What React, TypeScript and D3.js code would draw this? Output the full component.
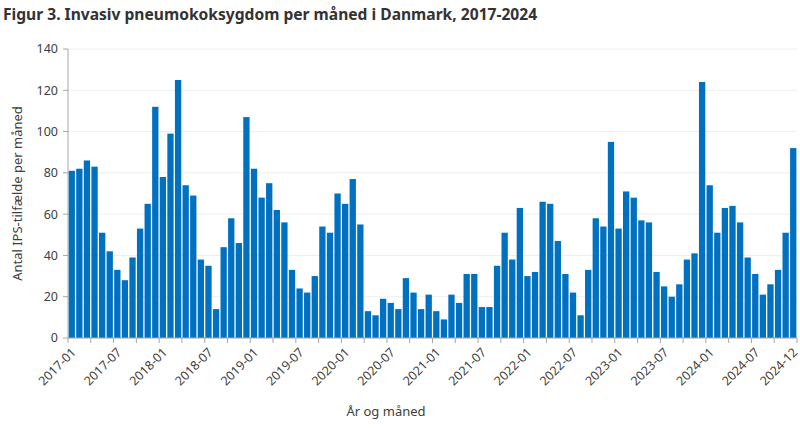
import React, { useMemo } from "react";
import * as d3 from "d3";

// Månedlige IPS-tilfælde, 2017-01 .. 2024-12
const years = [2017, 2018, 2019, 2020, 2021, 2022, 2023, 2024];
const months = ["01", "02", "03", "04", "05", "06", "07", "08", "09", "10", "11", "12"];
const categories = years.flatMap((y) => months.map((m) => `${y}-${m}`));

const cases2017 = [81, 82, 86, 83, 51, 42, 33, 28, 39, 53, 65, 112];
const cases2018 = [78, 99, 125, 74, 69, 38, 35, 14, 44, 58, 46, 107];
const cases2019 = [82, 68, 75, 62, 56, 33, 24, 22, 30, 54, 51, 70];
const cases2020 = [65, 77, 55, 13, 11, 19, 17, 14, 29, 22, 14, 21];
const cases2021 = [13, 9, 21, 17, 31, 31, 15, 15, 35, 51, 38, 63];
const cases2022 = [30, 32, 66, 65, 47, 31, 22, 11, 33, 58, 54, 95];
const cases2023 = [53, 71, 68, 57, 56, 32, 25, 20, 26, 38, 41, 124];
const cases2024 = [74, 51, 63, 64, 56, 39, 31, 21, 26, 33, 51, 92];
const values = [
    ...cases2017, ...cases2018, ...cases2019, ...cases2020,
    ...cases2021, ...cases2022, ...cases2023, ...cases2024,
];

const yTicks = [0, 20, 40, 60, 80, 100, 120, 140];
const xLabels = [
    "2017-01", "2017-07", "2018-01", "2018-07", "2019-01", "2019-07",
    "2020-01", "2020-07", "2021-01", "2021-07", "2022-01", "2022-07",
    "2023-01", "2023-07", "2024-01", "2024-07", "2024-12",
];

const title = "Figur 3. Invasiv pneumokoksygdom per måned i Danmark, 2017-2024";
const yTitle = "Antal IPS-tilfælde per måned";
const xTitle = "År og måned";

const width = 800;
const height = 428;
const margin = { top: 49, right: 3, bottom: 90, left: 68 };
const font = "'Noto Sans', 'DejaVu Sans', sans-serif";
const barColor = "#0070C0";
const axisColor = "#a6a6a6";
const textColor = "#404040";

export default function App() {
    const x = useMemo(
        () =>
            d3
                .scaleBand()
                .domain(categories)
                .range([margin.left, width - margin.right])
                .paddingInner(0.17)
                .paddingOuter(0.08),
        []
    );
    const y = useMemo(
        () =>
            d3
                .scaleLinear()
                .domain([0, 140])
                .range([height - margin.bottom, margin.top]),
        []
    );

    const left = margin.left;
    const right = width - margin.right;
    const bottom = y(0);
    // tick marks every third month, on category boundaries
    const tickIdx = d3.range(0, categories.length + 1, 3);
    const bx = (i: number) => left + ((right - left) * i) / categories.length;

    return (
        <svg
            width={width}
            height={height}
            style={{ position: "absolute", top: 0, left: 0, background: "#fff" }}
        >
            <text
                x={3}
                y={20}
                fontFamily={font}
                fontWeight="bold"
                fontSize={15.6}
                fill="#333"
            >
                {title}
            </text>

            {/* gridlines */}
            {yTicks.map((t) => (
                <line
                    key={`g${t}`}
                    x1={left}
                    x2={right}
                    y1={y(t)}
                    y2={y(t)}
                    stroke="#eeeeee"
                    strokeWidth={1}
                />
            ))}

            {/* bars */}
            {values.map((v, i) => (
                <rect
                    key={categories[i]}
                    x={x(categories[i])}
                    y={y(v)}
                    width={x.bandwidth()}
                    height={bottom - y(v)}
                    fill={barColor}
                />
            ))}

            {/* y axis */}
            <line x1={left} x2={left} y1={y(140)} y2={bottom} stroke={axisColor} />
            {yTicks.map((t) => (
                <g key={`y${t}`}>
                    <line x1={left - 5} x2={left} y1={y(t)} y2={y(t)} stroke={axisColor} />
                    <text
                        x={left - 10}
                        y={y(t)}
                        dy="0.35em"
                        textAnchor="end"
                        fontFamily={font}
                        fontSize={12.5}
                        fill={textColor}
                    >
                        {t}
                    </text>
                </g>
            ))}

            {/* x axis */}
            <line x1={left} x2={right} y1={bottom} y2={bottom} stroke={axisColor} />
            {tickIdx.map((i) => (
                <line
                    key={`t${i}`}
                    x1={bx(i)}
                    x2={bx(i)}
                    y1={bottom}
                    y2={bottom + 5}
                    stroke={axisColor}
                />
            ))}
            {xLabels.map((lab) => {
                const cx = (x(lab) ?? 0) + x.bandwidth() / 2;
                return (
                    <text
                        key={lab}
                        transform={`translate(${cx + 2},${bottom + 12}) rotate(-45)`}
                        textAnchor="end"
                        dy="0.35em"
                        fontFamily={font}
                        fontSize={12.5}
                        fill={textColor}
                    >
                        {lab}
                    </text>
                );
            })}

            {/* axis titles */}
            <text
                transform={`translate(17,${(margin.top + bottom) / 2}) rotate(-90)`}
                textAnchor="middle"
                dy="0.35em"
                fontFamily={font}
                fontSize={13}
                fill={textColor}
            >
                {yTitle}
            </text>
            <text
                x={386}
                y={416}
                textAnchor="middle"
                fontFamily={font}
                fontSize={13}
                fill={textColor}
            >
                {xTitle}
            </text>
        </svg>
    );
}
